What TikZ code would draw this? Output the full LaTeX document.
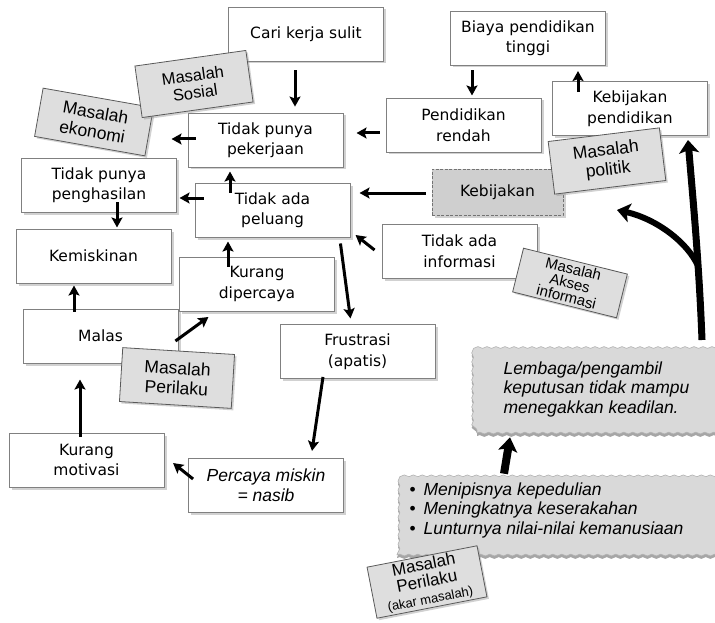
\documentclass[tikz,border=0pt]{standalone}
\usepackage{fontspec}
\setmainfont{DejaVu Sans}
\newfontfamily\arialfont{Liberation Sans}
\usepackage{tikz}
\usetikzlibrary{arrows.meta, positioning, calc, shadows, decorations.pathmorphing}

\begin{document}
\begin{tikzpicture}[
    x=1pt, y=-1pt,
    box/.style={rectangle, draw=black!50, line width=0.9pt, fill=white,
        minimum width=155pt, minimum height=54pt, align=center,
        font=\fontsize{15.5}{20.5}\selectfont,
        drop shadow={shadow xshift=2.5pt, shadow yshift=-2.5pt, fill=black!40, opacity=0.45}},
    tag/.style={rectangle, draw=black!65, line width=0.8pt, fill=black!13,
        minimum width=112pt, minimum height=52pt, align=center,
        font=\arialfont\fontsize{17.5}{19.5}\selectfont,
        drop shadow={shadow xshift=2pt, shadow yshift=-2pt, fill=black!40, opacity=0.45}},
    torn/.style={rectangle, fill=black!15, draw=black!30, line width=0.6pt,
        decorate, decoration={snake, segment length=9pt, amplitude=0.9pt},
        drop shadow={shadow xshift=0pt, shadow yshift=-3pt, fill=black!50, opacity=0.7}},
    note/.style={align=left, anchor=west, font=\arialfont\itshape\fontsize{17.5}{19.5}\selectfont},
    arr/.style={-{Stealth[length=10pt, width=11pt, inset=2pt]}, line width=3pt},
    bigarr/.style={-{Stealth[length=14pt, width=19pt, inset=3pt]}, line width=8pt}
]
\useasboundingbox (0,0) rectangle (715,623);

% Boxes
\node[box] (cari) at (306,34) {Cari kerja sulit};
\node[box] (pek) at (265.5,140) {Tidak punya\\pekerjaan};
\node[box] (hasil) at (99,185) {Tidak punya\\penghasilan};
\node[box] (peluang) at (272.5,210) {Tidak ada\\peluang};
\node[box] (miskin) at (93.5,256) {Kemiskinan};
\node[box] (percaya) at (257,284) {Kurang\\dipercaya};
\node[box] (malas) at (100.5,336) {Malas};
\node[box] (motivasi) at (86.5,460) {Kurang\\motivasi};
\node[box, font=\arialfont\itshape\fontsize{17.5}{20}\selectfont] (nasib) at (266,485.5) {Percaya miskin\\= nasib};
\node[box] (frustrasi) at (357.5,351.5) {Frustrasi\\(apatis)};
\node[box] (biaya) at (528,38) {Biaya pendidikan\\tinggi};
\node[box] (rendah) at (463.5,125) {Pendidikan\\rendah};
\node[box] (kebpend) at (630,108.5) {Kebijakan\\pendidikan};
\node[box, fill=black!19, draw=black!55, dash pattern=on 3pt off 1.5pt,
    minimum width=131pt, minimum height=46pt] (kebijakan) at (497.5,192) {Kebijakan};
\node[box] (info) at (459.5,251) {Tidak ada\\informasi};

% Torn notes
\node[torn, minimum width=241pt, minimum height=85pt] (lembaga) at (597.5,390.5) {};
\node[note] (lembagatxt) at (500,389) {Lembaga/pengambil\\keputusan tidak mampu\\menegakkan keadilan.};
\node[torn, minimum width=321pt, minimum height=78pt] (bullets) at (557.5,516) {};
\node[note] (bulletstxt) at (406,510) {{\upshape\textbullet}\hspace{8pt}Menipisnya kepedulian\\
    {\upshape\textbullet}\hspace{8pt}Meningkatnya keserakahan\\
    {\upshape\textbullet}\hspace{8pt}Lunturnya nilai-nilai kemanusiaan};

% Tags
\node[tag, minimum height=49pt, rotate=-10] (ekonomi) at (94,122) {Masalah\\ekonomi};
\node[tag, rotate=8, font=\arialfont\fontsize{16.5}{17.5}\selectfont] (sosial) at (194,84) {Masalah\\Sosial};
\node[tag, minimum height=53pt, rotate=7] (politik) at (607,161) {Masalah\\politik};
\node[tag, minimum width=107pt, minimum height=45pt, rotate=-14, inner ysep=1pt,
    font=\arialfont\fontsize{15}{14.5}\selectfont] (akses) at (570,283) {Masalah\\Akses\\informasi};
\node[tag, minimum height=54pt, rotate=-3.5] (perilaku) at (177,378) {Masalah\\Perilaku};
\node[tag, rotate=11, inner ysep=1pt, font=\arialfont\fontsize{17}{17}\selectfont] (akar) at (427,582)
    {Masalah\\Perilaku\\{\fontsize{13}{14}\selectfont(akar masalah)}};

% Arrows
\draw[arr] ($(cari.south)+(-11,9)$) -- ($(pek.north)+(29.5,-6)$);
\draw[arr] ($(pek.west)+(8,-1)$) -- ++(-24,0);
\draw[arr] ($(rendah.west)+(-6,8)$) -- ++(-23,0);
\draw[arr] ($(biaya.south)+(-56,5)$) -- ++(0,25);
\draw[arr] ($(kebpend.north)+(-52,11)$) -- ++(0,-21);
\draw[arr] ($(kebijakan.west)+(-6,1)$) -- ++(-66,0);
\draw[arr] ($(info.west)+(-7,-1)$) -- ++(-19,-15);
\draw[arr] ($(peluang.north)+(-42.5,10)$) -- ++(0,-21);
\draw[arr] ($(peluang.west)+(9,-12)$) -- ++(-24,0);
\draw[arr] ($(hasil.south)+(18,-10)$) -- ++(0,25);
\draw[arr] ($(percaya.north)+(-29,10)$) -- ++(0,-25);
\draw[arr] ($(malas.north)+(-26.5,3)$) -- ++(0,-26);
\draw[arr] ($(malas.east)+(-3,5)$) -- ++(33,-24);
\draw[arr] ($(motivasi.north)+(-6.5,4)$) -- ++(0,-57);
\draw[arr] ($(nasib.west)+(5,-6.5)$) -- ++(-20,-16);
\draw[arr] ($(frustrasi.south)+(-34.5,-2)$) -- ++(-11,74);
\draw[arr] ($(peluang.south east)+(-10,6)$) -- ++(10,75);
\draw[bigarr] ($(bullets.north)+(-53.5,-3)$) -- ($(lembaga.south)+(-87.5,4)$);

% Tree
\coordinate (root) at (702,340);
\coordinate (fork) at (698,266);
\coordinate (trunktop) at (688,140);
\coordinate (branchtip) at (617,210);
\draw[-{Stealth[length=13pt, width=20pt, inset=3pt]}, line width=7pt]
    (root) .. controls (699,262) and (693,200) .. (trunktop);
\draw[-{Stealth[length=13pt, width=19pt, inset=3pt]}, line width=6pt]
    (fork) .. controls (688,243) and (657,219) .. (branchtip);

\end{tikzpicture}
\end{document}
